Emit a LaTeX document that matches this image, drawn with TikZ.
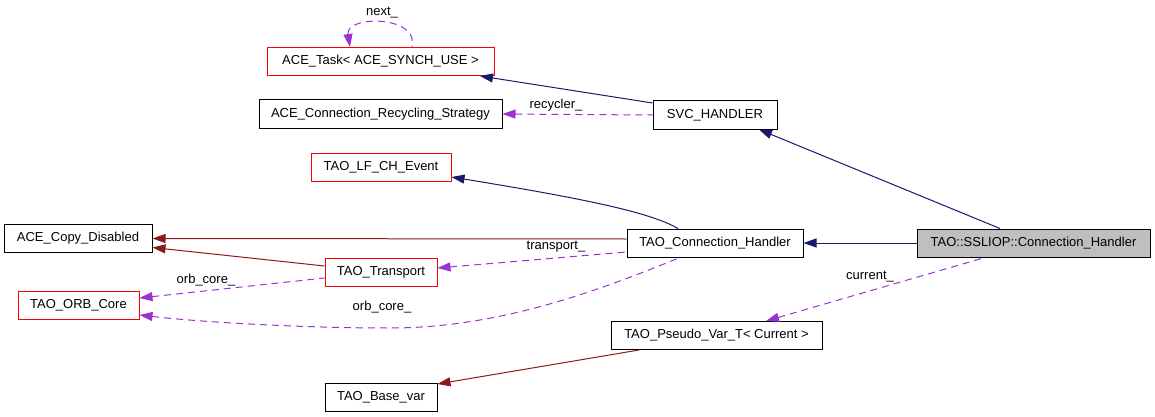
\documentclass[tikz,border=0pt]{standalone}
\usepackage{fontspec}
\setmainfont{Liberation Sans}
\usetikzlibrary{arrows.meta,positioning}

\definecolor{inhblue}{HTML}{191970}
\definecolor{inhred}{HTML}{8B1A1A}
\definecolor{usepurple}{HTML}{9A32CD}
\definecolor{mainfill}{HTML}{BFBFBF}

\begin{document}
\begin{tikzpicture}[x=1pt,y=-1pt,
                     font=\fontsize{13}{15}\selectfont,
                     cls/.style={
                                % The shape:
                                rectangle,minimum height=28pt,inner xsep=0pt,
                                % The rest
                                line width=1pt,draw=black,fill=white},
                     partial/.style={cls,draw=red},
                     focus/.style={cls,fill=mainfill},
                     lbl/.style={inner sep=0pt},
                     inherit/.style={line width=1pt,draw=inhblue,
                                {Triangle[length=13pt,width=9pt,fill=inhblue]}-},
                     inherit2/.style={line width=1pt,draw=inhred,
                                {Triangle[length=13pt,width=9pt,fill=inhred]}-},
                     member/.style={line width=1pt,draw=usepurple,
                                dash pattern=on 7pt off 5pt,
                                {Triangle[length=13pt,width=9pt,fill=usepurple]}-}]
 \useasboundingbox (0,0) rectangle (1155,417);
 % classes
 \node (acetask)   [partial,minimum width=227pt] at (380.5,61.5) {ACE\_Task< ACE\_SYNCH\_USE >};
 \node (recycle)   [cls,minimum width=243pt]     at (380.5,114)  {ACE\_Connection\_Recycling\_Strategy};
 \node (svc)       [cls,minimum width=124pt]     at (715,115)    {SVC\_HANDLER};
 \node (lfevent)   [partial,minimum width=140pt] at (381,167.5)  {TAO\_LF\_CH\_Event};
 \node (copydis)   [cls,minimum width=148pt]     at (78,238.5)   {ACE\_Copy\_Disabled};
 \node (conn)      [cls,minimum width=176pt]     at (715,243)    {TAO\_Connection\_Handler};
 \node (ssliop)    [focus,minimum width=233pt]   at (1033.5,243) {TAO::SSLIOP::Connection\_Handler};
 \node (transport) [partial,minimum width=112pt] at (381,272)    {TAO\_Transport};
 \node (orbcore)   [partial,minimum width=121pt] at (78.5,305)   {TAO\_ORB\_Core};
 \node (pseudo)    [cls,minimum width=211pt]     at (716.5,335.5) {TAO\_Pseudo\_Var\_T< Current >};
 \node (basevar)   [cls,minimum width=112pt]     at (381,397)    {TAO\_Base\_var};
 % labels
 \node (lnext)      [lbl] at (382,13)  {next\_};
 \node (lrecycler)  [lbl] at (556,105) {recycler\_};
 \node (ltransport) [lbl] at (556,247) {transport\_};
 \node (lorb1)      [lbl] at (206,280) {orb\_core\_};
 \node (lorb2)      [lbl] at (382,307) {orb\_core\_};
 \node (lcurrent)   [lbl] at (870,277) {current\_};
 % inheritance
 \draw [inherit] (conn.east) -- (ssliop.west);
 \draw [inherit] ([xshift=44pt]svc.south) -- ([xshift=-33.5pt]ssliop.north);
 \draw [inherit] ([xshift=99.5pt]acetask.south) -- ([yshift=12pt]svc.west);
 \draw [inherit] ([yshift=-9.5pt]lfevent.east) .. controls (580,198) and (650,212) .. ([xshift=-37pt]conn.north);
 \draw [inherit2] (copydis.east) -- ([yshift=4pt]conn.west);
 \draw [inherit2] ([yshift=-9pt]copydis.east) -- ([yshift=6pt]transport.west);
 \draw [inherit2] ([yshift=13pt]basevar.east) -- ([xshift=-77.5pt]pseudo.south);
 % members
 \draw [member] ([xshift=-30.5pt]acetask.north) .. controls (345,15) and (420,15) .. ([xshift=31.5pt]acetask.north);
 \draw [member] (recycle.east) -- (svc.west);
 \draw [member] ([yshift=4pt]transport.east) -- ([yshift=-9pt]conn.west);
 \draw [member] ([yshift=7pt]orbcore.east) -- ([yshift=-6pt]transport.west);
 \draw [member] ([yshift=-10pt]orbcore.east) .. controls (200,322) and (300,328) .. (390,328)
                 .. controls (500,328) and (600,290) .. ([xshift=-35pt]conn.south);
 \draw [member] ([xshift=49.5pt]pseudo.north) -- ([xshift=-48.5pt]ssliop.south);
\end{tikzpicture}
\end{document}
